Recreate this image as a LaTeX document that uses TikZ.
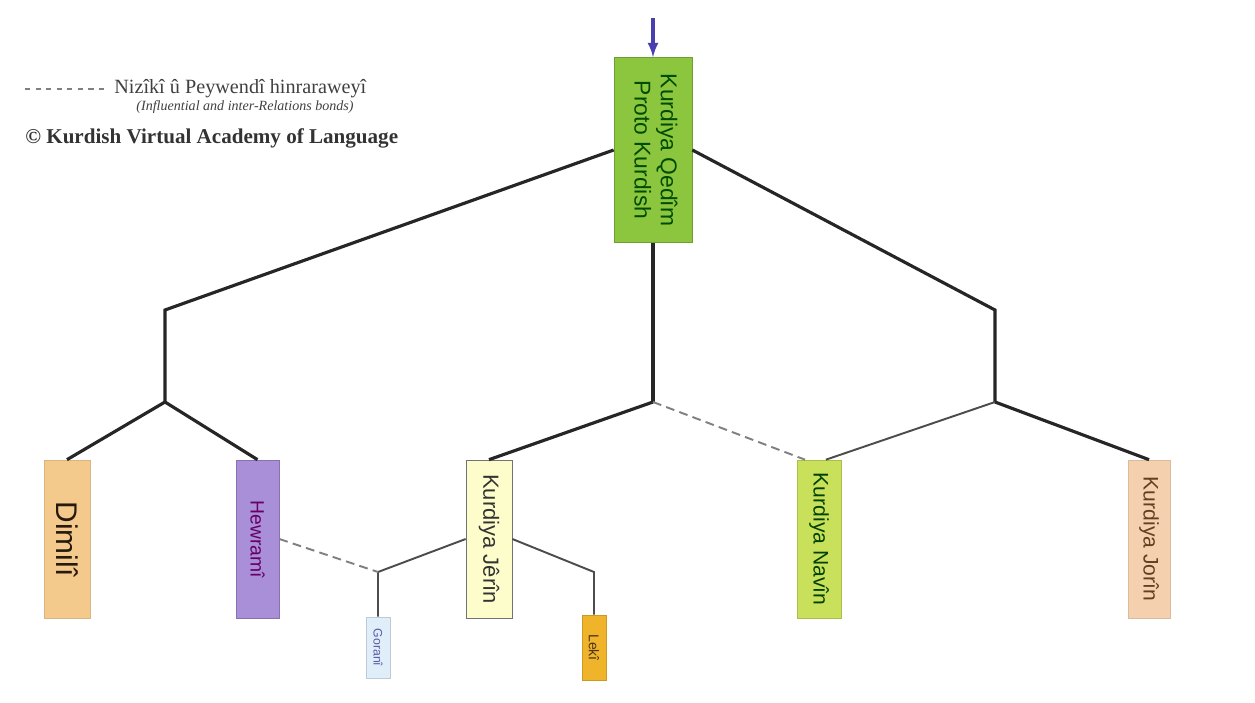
\documentclass[tikz,border=0pt]{standalone}
\usepackage{fontspec}
\setmainfont{Liberation Serif}
\setsansfont{Liberation Sans}
\usetikzlibrary{
	arrows,
	positioning
}
\definecolor{rootgreen}{HTML}{8CC63E}
\definecolor{dimilipeach}{HTML}{F4C98C}
\definecolor{hewramipurple}{HTML}{A98ED8}
\definecolor{jerinyellow}{HTML}{FDFDCB}
\definecolor{navinlime}{HTML}{C8E05A}
\definecolor{jorinpeach}{HTML}{F5D0AE}
\definecolor{goraniblue}{HTML}{E0EEFA}
\definecolor{lekigold}{HTML}{F0B42A}
\definecolor{entryblue}{HTML}{4A3FB0}

\begin{document}
\begin{tikzpicture}
[x=0.02cm,y=-0.02cm,
lang/.style={rectangle,inner sep=0pt,thin,font=\sffamily},
branch/.style={line width=1.8pt,black!85},
twig/.style={line width=1.1pt,black!70},
bond/.style={line width=1.1pt,gray,dash pattern=on 5pt off 3pt},
entry/.style={line width=1.8pt,entryblue,-latex}]
\useasboundingbox (0,0) rectangle (1255,703);
\node (root) at (653,150) [lang,fill=rootgreen,draw=rootgreen!80!black,minimum width=1.56cm,minimum height=3.7cm]
 {\rotatebox{-90}{\fontsize{13}{15}\selectfont\color{green!30!black}\begin{tabular}{@{}c@{}}Kurdiya Qedîm\\Proto Kurdish\end{tabular}}};
\node (dimili) at (67,539) [lang,fill=dimilipeach,draw=dimilipeach!90!black,minimum width=0.92cm,minimum height=3.16cm]
 {\rotatebox{-90}{\fontsize{17}{20}\selectfont\color{black!80!brown}Dimilî}};
\node (hewrami) at (257.5,539) [lang,fill=hewramipurple,draw=hewramipurple!80!black,minimum width=0.86cm,minimum height=3.16cm]
 {\rotatebox{-90}{\fontsize{11}{13}\selectfont\color{violet!80!black}Hewramî}};
\node (jerin) at (489,539) [lang,fill=jerinyellow,draw=black!55,minimum width=0.92cm,minimum height=3.16cm]
 {\rotatebox{-90}{\fontsize{12.5}{15}\selectfont\color{black!80}Kurdiya Jêrîn}};
\node (navin) at (819,539) [lang,fill=navinlime,draw=navinlime!85!black,minimum width=0.88cm,minimum height=3.16cm]
 {\rotatebox{-90}{\fontsize{12}{14}\selectfont\color{green!25!black}Kurdiya Navîn}};
\node (jorin) at (1149,539) [lang,fill=jorinpeach,draw=jorinpeach!90!black,minimum width=0.84cm,minimum height=3.16cm]
 {\rotatebox{-90}{\fontsize{12}{14}\selectfont\color{brown!50!black}Kurdiya Jorîn}};
\node (gorani) at (378,647.5) [lang,fill=goraniblue,draw=goraniblue!85!black,minimum width=0.48cm,minimum height=1.22cm]
 {\rotatebox{-90}{\fontsize{7}{8}\selectfont\color{blue!30!gray}Goranî}};
\node (leki) at (594,647.5) [lang,fill=lekigold,draw=lekigold!85!black,minimum width=0.48cm,minimum height=1.3cm]
 {\rotatebox{-90}{\fontsize{8}{9}\selectfont\color{brown!40!black}Lekî}};
\coordinate (in) at (653,18);
\coordinate (lj) at (165,310);
\coordinate (lf) at (165,402);
\coordinate (rj) at (995,310);
\coordinate (rf) at (995,402);
\coordinate (mf) at (653,402);
\coordinate (gj) at (378,572);
\coordinate (kj) at (594,572);
\draw[entry] (in) -- (root.north);
\draw[branch] (root.west) -- (lj) -- (lf);
\draw[branch] (root.east) -- (rj) -- (rf);
\draw[branch] (root.south) -- (mf);
\draw[branch] (lf) -- (dimili.north);
\draw[branch] (lf) -- (hewrami.north);
\draw[branch] (mf) -- (jerin.north);
\draw[branch] (rf) -- (jorin.north);
\draw[twig] (rf) -- (navin.85);
\draw[bond] (mf) -- (navin.100);
\draw[twig] (jerin.west) -- (gj) -- (gorani.north);
\draw[twig] (jerin.east) -- (kj) -- (leki.north);
\draw[bond] (hewrami.east) -- (gj);
\coordinate (k1) at (25,89);
\coordinate (k2) at (108,89);
\draw[bond,line width=0.8pt,dash pattern=on 3pt off 3pt] (k1) -- (k2);
\node (bondtxt) at (114,89) [anchor=west,inner sep=0pt,font=\fontsize{11.5}{13}\selectfont,text=black!75] {Nizîkî û Peywendî hinraraweyî};
\node (bondsub) at (245,107) [inner sep=0pt,font=\fontsize{8}{9}\selectfont\itshape,text=black!75] {(Influential and inter-Relations bonds)};
\node (kval) at (25,138) [anchor=west,inner sep=0pt,font=\fontsize{12}{14}\selectfont\bfseries,text=black!80] {© Kurdish Virtual Academy of Language};
\end{tikzpicture}
\end{document}
